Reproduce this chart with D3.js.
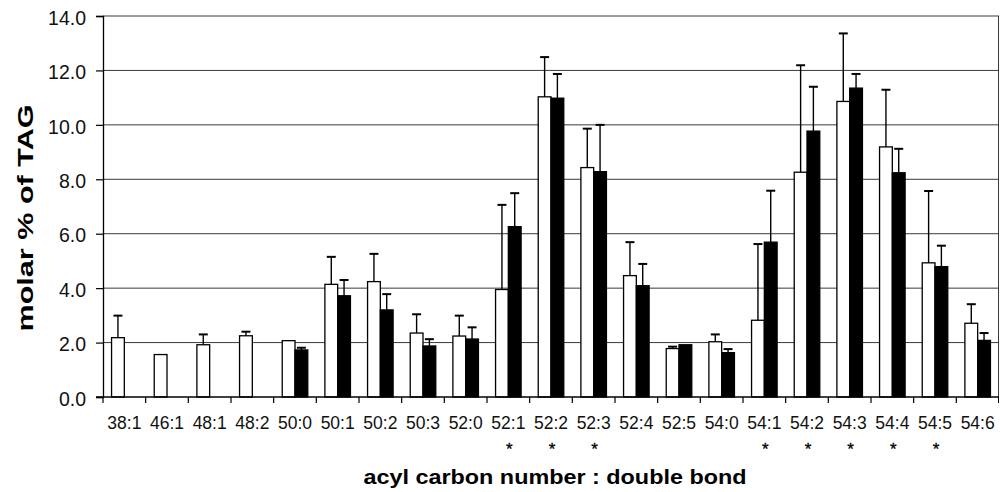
<!DOCTYPE html>
<html>
<head>
<meta charset="utf-8">
<script src="https://cdn.jsdelivr.net/npm/d3@7"></script>
<style>
  body { margin: 0; background: #fff; }
  svg { display: block; font-family: "Liberation Sans", Arial, Helvetica, sans-serif; }
</style>
</head>
<body>
<svg id="chart"></svg>
<script>
// TAG species (acyl carbon number : double bond)
const categories = ['38:1', '46:1', '48:1', '48:2', '50:0', '50:1', '50:2', '50:3', '52:0', '52:1', '52:2',
  '52:3', '52:4', '52:5', '54:0', '54:1', '54:2', '54:3', '54:4', '54:5', '54:6'];

// white bars and their (upper) error bars
const whiteValues = [2.18, 1.56, 1.92, 2.25, 2.07, 4.14, 4.24, 2.35, 2.24, 3.95, 11.03,
  8.43, 4.46, 1.78, 2.03, 2.82, 8.26, 10.86, 9.19, 4.93, 2.71];
const whiteErrors = [0.81, null, 0.38, 0.15, null, 1.01, 1.02, 0.69, 0.75, 3.11, 1.46,
  1.43, 1.23, 0.07, 0.27, 2.80, 3.93, 2.50, 2.10, 2.64, 0.70];

// black bars and their error bars
const blackValues = [null, null, null, null, 1.73, 3.72, 3.20, 1.875, 2.13, 6.26, 10.98,
  8.28, 4.09, 1.92, 1.63, 5.69, 9.77, 11.35, 8.24, 4.79, 2.08];
const blackErrors = [null, null, null, null, 0.08, 0.58, 0.58, 0.25, 0.43, 1.23, 0.89,
  1.72, 0.80, null, 0.13, 1.89, 1.63, 0.52, 0.88, 0.77, 0.27];

// categories marked with an asterisk under the label
const starred = ['52:1', '52:2', '52:3', '54:1', '54:2', '54:3', '54:4', '54:5'];

const yTicks = [0, 2, 4, 6, 8, 10, 12, 14];

const w = 1000;
const h = 492;
const plotLeft = 103, plotRight = 999, plotTop = 16, plotBottom = 397;

const svg = d3.select('#chart')
  .attr('width', w)
  .attr('height', h);

const x0 = d3.scaleBand()
  .domain(categories)
  .range([plotLeft, plotRight]);

const x1 = d3.scaleBand()
  .domain(['white', 'black'])
  .range([0, x0.bandwidth()])
  .paddingOuter(0.67);

const y = d3.scaleLinear()
  .domain([0, 14])
  .range([plotBottom, plotTop]);

// one row per bar so the join is simple
const bars = [];
categories.forEach((c, i) => {
  bars.push({cat: c, series: 'white', value: whiteValues[i], err: whiteErrors[i]});
  if (blackValues[i] != null) bars.push({cat: c, series: 'black', value: blackValues[i], err: blackErrors[i]});
});

// horizontal gridlines
svg.append('g')
  .selectAll('line')
  .data(yTicks.filter(t => t > 0))
  .join('line')
    .attr('x1', plotLeft)
    .attr('x2', plotRight)
    .attr('y1', d => y(d))
    .attr('y2', d => y(d))
    .attr('stroke', '#3a3a3a')
    .attr('stroke-width', 1);

// right border
svg.append('line')
  .attr('x1', plotRight - 0.5).attr('x2', plotRight - 0.5)
  .attr('y1', y(14)).attr('y2', y(0))
  .attr('stroke', '#3a3a3a');

// bars
svg.append('g')
  .selectAll('rect')
  .data(bars)
  .join('rect')
    .attr('x', d => x0(d.cat) + x1(d.series))
    .attr('y', d => y(d.value))
    .attr('width', x1.bandwidth())
    .attr('height', d => y(0) - y(d.value))
    .attr('fill', d => d.series === 'white' ? '#fff' : '#000')
    .attr('stroke', '#000')
    .attr('stroke-width', 1.3);

// error bars (upper half only)
const errG = svg.append('g')
  .selectAll('g')
  .data(bars.filter(d => d.err != null))
  .join('g')
    .attr('stroke', '#000')
    .attr('stroke-width', 1.4);

errG.append('line')
  .attr('x1', d => x0(d.cat) + x1(d.series) + x1.bandwidth() / 2)
  .attr('x2', d => x0(d.cat) + x1(d.series) + x1.bandwidth() / 2)
  .attr('y1', d => y(d.value))
  .attr('y2', d => y(d.value + d.err));

errG.append('line')
  .attr('x1', d => x0(d.cat) + x1(d.series) + x1.bandwidth() / 2 - 4.5)
  .attr('x2', d => x0(d.cat) + x1(d.series) + x1.bandwidth() / 2 + 4.5)
  .attr('y1', d => y(d.value + d.err))
  .attr('y2', d => y(d.value + d.err))
  .attr('stroke-width', 2);

// y axis
const yAxis = d3.axisLeft(y)
  .tickValues(yTicks)
  .tickFormat(d3.format('.1f'))
  .tickSize(7)
  .tickPadding(10);

svg.append('g')
  .attr('transform', `translate(${plotLeft},0)`)
  .call(yAxis)
  .call(g => g.select('.domain').attr('stroke-width', 1.3))
  .call(g => g.selectAll('text').attr('font-size', 19.5).attr('fill', '#111').attr('dy', '0.42em').attr('font-family', null))
  .call(g => g.selectAll('.tick line').attr('stroke-width', 1.2));

// x axis: ticks at band boundaries, labels in the middle
const xAxis = d3.axisBottom(x0)
  .tickSize(0)
  .tickPadding(20);

svg.append('g')
  .attr('transform', `translate(0,${plotBottom})`)
  .call(xAxis)
  .call(g => g.select('.domain').remove())
  .call(g => g.selectAll('text').attr('font-size', 17.5).attr('fill', '#111').attr('font-family', null));

svg.append('line')
  .attr('x1', plotLeft - 7).attr('x2', plotRight)
  .attr('y1', plotBottom).attr('y2', plotBottom)
  .attr('stroke', '#000').attr('stroke-width', 1.3);

svg.append('g')
  .selectAll('line')
  .data(categories)
  .join('line')
    .attr('x1', d => x0(d))
    .attr('x2', d => x0(d))
    .attr('y1', plotBottom)
    .attr('y2', plotBottom + 6)
    .attr('stroke', '#000')
    .attr('stroke-width', 1.2);

svg.append('line')
  .attr('x1', plotRight - 0.5).attr('x2', plotRight - 0.5)
  .attr('y1', plotBottom).attr('y2', plotBottom + 6)
  .attr('stroke', '#000');

// asterisks
svg.append('g')
  .selectAll('text')
  .data(starred)
  .join('text')
    .attr('x', d => x0(d) + x0.bandwidth() / 2 + 1)
    .attr('y', 455)
    .attr('text-anchor', 'middle')
    .attr('font-size', 17)
    .attr('fill', '#000')
    .attr('stroke', '#000')
    .attr('stroke-width', 0.3)
    .text('*');

// axis titles
svg.append('text')
  .attr('x', (plotLeft + plotRight) / 2 + 4)
  .attr('y', 484)
  .attr('text-anchor', 'middle')
  .attr('font-size', 20.5)
  .attr('font-weight', 'bold')
  .attr('textLength', 383)
  .attr('lengthAdjust', 'spacingAndGlyphs')
  .text('acyl carbon number : double bond');

svg.append('text')
  .attr('transform', 'translate(33,218) rotate(-90)')
  .attr('text-anchor', 'middle')
  .attr('font-size', 22.5)
  .attr('font-weight', 'bold')
  .attr('textLength', 227)
  .attr('lengthAdjust', 'spacingAndGlyphs')
  .text('molar % of TAG');
</script>
</body>
</html>
